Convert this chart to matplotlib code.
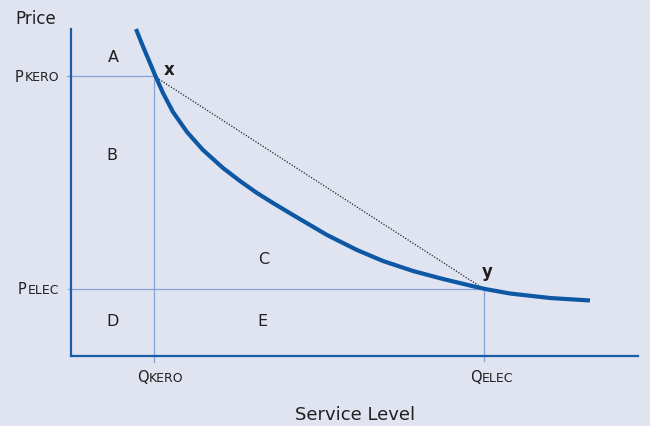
import matplotlib.pyplot as plt

# service level (x) and price (y), axis origin = 0,0
curve_q = [65, 72, 79, 84, 92, 102, 116, 132, 152, 169, 186, 202, 222,
           256, 286, 312, 342, 372, 399, 414, 439, 479, 519]
curve_p = [327, 309.5, 293, 281, 263, 244, 224, 206, 188, 175, 163, 153, 141,
           121, 106, 95, 85, 77, 70.5, 67, 62.5, 58, 55.5]
q_kero, p_kero = 83, 280
q_elec, p_elec = 413, 67
regions = {"A": (42, 300), "B": (41, 202), "C": (193, 98), "D": (42, 35), "E": (191, 35)}

bg = "#dfe4f0"
axis_blue = "#1a5fa6"
curve_blue = "#0d57a4"
thin_blue = "#86a3d6"
txt = "#231f20"
font = "DejaVu Sans"

fig = plt.figure(figsize=(6.5, 4.27), dpi=100, facecolor=bg)
ax = fig.add_axes([71/650, 70/427, 567/650, 327/427])
ax.set_facecolor(bg)
ax.set_xlim(0, 567)
ax.set_ylim(0, 327)
for s in ["top", "right"]:
    ax.spines[s].set_visible(False)
for s in ["left", "bottom"]:
    ax.spines[s].set_color(axis_blue)
    ax.spines[s].set_linewidth(1.6)
ax.set_xticks([])
ax.set_yticks([])

# guide lines
ax.plot([-4, q_kero], [p_kero, p_kero], color=thin_blue, lw=0.9, clip_on=False)
ax.plot([q_kero, q_kero], [-6, p_kero], color=thin_blue, lw=0.9, clip_on=False)
ax.plot([-3, q_elec], [p_elec, p_elec], color=thin_blue, lw=0.9, clip_on=False)
ax.plot([q_elec, q_elec], [-5, p_elec], color=thin_blue, lw=0.9, clip_on=False)

# chord x -> y
ax.plot([q_kero, q_elec], [p_kero, p_elec], color="#222222", lw=0.9,
        linestyle=(0, (1, 1.3)))

ax.plot(curve_q, curve_p, color=curve_blue, lw=3, clip_on=False,
        solid_capstyle="butt", solid_joinstyle="round")

for k, (x, y) in regions.items():
    ax.text(x, y, k, fontsize=11.5, color=txt, ha="center", va="center", family=font)

ax.text(q_kero + 15, p_kero + 7, "x", fontsize=12, fontweight="bold", color=txt,
        ha="center", va="center", family=font)
ax.text(q_elec + 3, p_elec + 18, "y", fontsize=12, fontweight="bold", color=txt,
        ha="center", va="center", family=font)

# axis value labels (small caps look)
def sc_label(x, y, big, small, dx_small):
    ax.annotate(big, xy=(x, y), xytext=(0, 0), textcoords="offset pixels",
                fontsize=10.5, color=txt, ha="left", va="center", family=font,
                annotation_clip=False)
    ax.annotate(small, xy=(x, y), xytext=(dx_small, -0.5), textcoords="offset pixels",
                fontsize=9, color=txt, ha="left", va="center", family=font,
                annotation_clip=False)

sc_label(-56, p_kero, "P", "KERO", 10)
sc_label(-53, p_elec, "P", "ELEC", 10)
sc_label(q_kero - 17, -21, "Q", "KERO", 12)
sc_label(q_elec - 14, -21, "Q", "ELEC", 12)

ax.text(-56, 338, "Price", fontsize=12, color=txt, ha="left", va="center",
        family=font, clip_on=False)
ax.text(284, -58, "Service Level", fontsize=13, color=txt, ha="center",
        va="center", family=font, clip_on=False)

fig.savefig("out.png", dpi=100, facecolor=bg)
